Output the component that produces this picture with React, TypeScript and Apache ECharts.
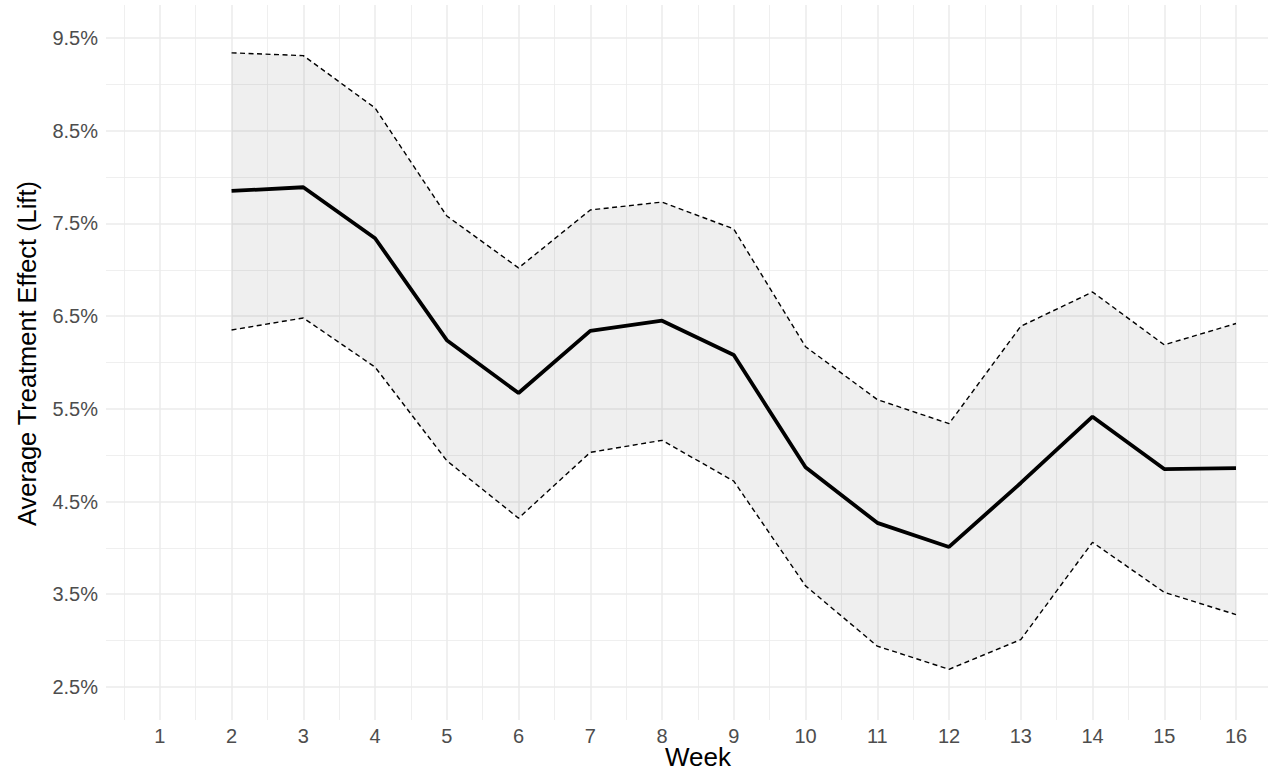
import React, { useEffect, useRef } from "react";
import * as echarts from "echarts";

const weeks = [2, 3, 4, 5, 6, 7, 8, 9, 10, 11, 12, 13, 14, 15, 16];
const meanLift = [7.85, 7.89, 7.34, 6.24, 5.67, 6.34, 6.45, 6.08, 4.87, 4.27, 4.01, 4.70, 5.415, 4.85, 4.86];
const upperLift = [9.34, 9.31, 8.745, 7.58, 7.02, 7.645, 7.73, 7.44, 6.17, 5.60, 5.34, 6.39, 6.76, 6.19, 6.42];
const lowerLift = [6.35, 6.48, 5.95, 4.94, 4.32, 5.03, 5.16, 4.72, 3.59, 2.94, 2.69, 3.01, 4.06, 3.52, 3.28];

const yMajorTicks = [2.5, 3.5, 4.5, 5.5, 6.5, 7.5, 8.5, 9.5];
const yMinorTicks = [3, 4, 5, 6, 7, 8, 9];
const xMajorTicks = [1, 2, 3, 4, 5, 6, 7, 8, 9, 10, 11, 12, 13, 14, 15, 16];
const xMinorTicks = [0.5, 1.5, 2.5, 3.5, 4.5, 5.5, 6.5, 7.5, 8.5, 9.5, 10.5, 11.5, 12.5, 13.5, 14.5, 15.5];

const X_TITLE = "Week";
const Y_TITLE = "Average Treatment Effect (Lift)";

const FONT = "'Liberation Sans', Arial, Helvetica, sans-serif";

export default function App() {
  const ref = useRef<HTMLDivElement>(null);
  useEffect(() => {
    document.body.style.margin = "0";
    if (!ref.current) return;
    const chart = echarts.init(ref.current, undefined, { renderer: "svg", width: 1268, height: 771 });
    const pairs = (vals: number[]) => weeks.map((w, i) => [w, vals[i]]);
    const near = (a: number, b: number) => Math.abs(a - b) < 1e-6;
    const gridData = [
      ...yMajorTicks.map((v) => ({ yAxis: v, lineStyle: { width: 1.5 } })),
      ...yMinorTicks.map((v) => ({ yAxis: v, lineStyle: { width: 0.8 } })),
      ...xMajorTicks.map((v) => ({ xAxis: v, lineStyle: { width: 1.5 } })),
      ...xMinorTicks.map((v) => ({ xAxis: v, lineStyle: { width: 0.8 } })),
    ];
    chart.setOption({
      animation: false,
      backgroundColor: "#ffffff",
      grid: { left: 106, right: 0, top: 5, bottom: 51, containLabel: false, outerBoundsMode: "none" },
      graphic: [
        {
          type: "text",
          x: 698,
          y: 757,
          silent: true,
          style: {
            text: X_TITLE,
            fontFamily: FONT,
            fontSize: 26,
            fill: "#000000",
            textAlign: "center",
            textVerticalAlign: "middle",
          },
        },
      ],
      xAxis: {
        type: "value",
        min: 0.25,
        max: 16.446,
        splitNumber: 16,
        axisLine: { show: false },
        axisTick: { show: false },
        splitLine: { show: false },
        axisLabel: {
          fontFamily: FONT,
          fontSize: 20,
          color: "#4D4D4D",
          margin: 6,
          showMinLabel: false,
          showMaxLabel: false,
          formatter: (v: number) => (xMajorTicks.some((t) => near(t, v)) ? String(Math.round(v)) : ""),
        },
      },
      yAxis: {
        type: "value",
        min: 2.143,
        max: 9.856,
        splitNumber: 16,
        name: Y_TITLE,
        nameLocation: "middle",
        nameGap: 67,
        nameTextStyle: { fontFamily: FONT, fontSize: 25.4, color: "#000000", padding: [0, 0, 0, 18] },
        axisLine: { show: false },
        axisTick: { show: false },
        splitLine: { show: false },
        axisLabel: {
          fontFamily: FONT,
          fontSize: 20,
          color: "#4D4D4D",
          margin: 8,
          showMinLabel: false,
          showMaxLabel: false,
          formatter: (v: number) => (yMajorTicks.some((t) => near(t, v)) ? v.toFixed(1) + "%" : ""),
        },
      },
      series: [
        {
          type: "line",
          name: "grid",
          data: [],
          z: 1,
          silent: true,
          markLine: {
            silent: true,
            z: 1,
            symbol: ["none", "none"],
            label: { show: false },
            lineStyle: { color: "#EBEBEB", type: "solid" },
            emphasis: { disabled: true },
            data: gridData,
          },
        },
        {
          type: "custom",
          name: "ribbon",
          data: [[weeks[0], lowerLift[0]]],
          silent: true,
          z: 3,
          renderItem: (_params: any, api: any) => {
            const top = weeks.map((w, i) => api.coord([w, upperLift[i]]));
            const bottom = weeks.map((w, i) => api.coord([w, lowerLift[i]])).reverse();
            return {
              type: "polygon",
              shape: { points: [...top, ...bottom] },
              style: { fill: "rgba(0,0,0,0.062)", stroke: "none" },
            };
          },
        },
        {
          type: "line",
          name: "Upper",
          data: pairs(upperLift),
          showSymbol: false,
          symbol: "none",
          lineStyle: { color: "#000000", width: 1.4, type: [5, 3.5] },
          z: 4,
        },
        {
          type: "line",
          name: "Lower",
          data: pairs(lowerLift),
          showSymbol: false,
          symbol: "none",
          lineStyle: { color: "#000000", width: 1.4, type: [5, 3.5] },
          z: 4,
        },
        {
          type: "line",
          name: "ATE",
          data: pairs(meanLift),
          showSymbol: false,
          symbol: "none",
          lineStyle: { color: "#000000", width: 3.8 },
          z: 5,
        },
      ],
    });
    return () => chart.dispose();
  }, []);
  return <div ref={ref} style={{ width: 1268, height: 771 }} />;
}
